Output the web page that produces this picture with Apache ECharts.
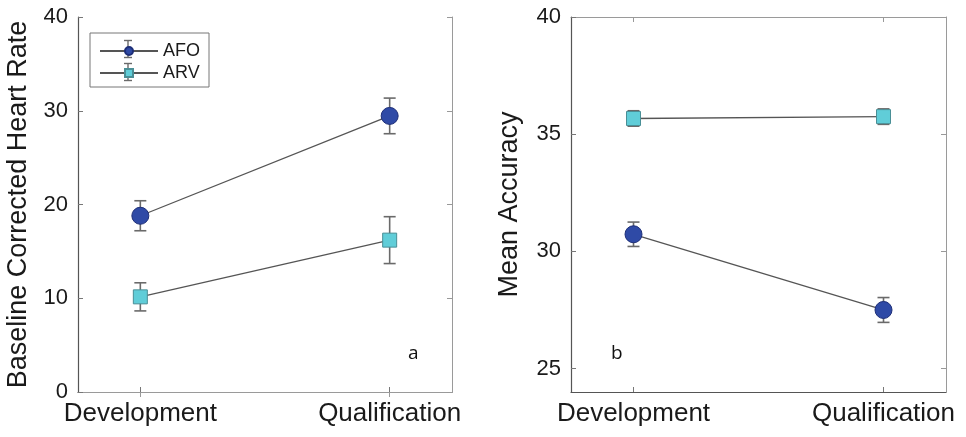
<!DOCTYPE html>
<html><head><meta charset="utf-8">
<script src="https://cdn.jsdelivr.net/npm/echarts@6/dist/echarts.min.js"></script>
<style>html,body{margin:0;padding:0;background:#fff}#c{width:966px;height:437px}</style>
</head><body><div id="c"></div>
<script>
const categories = ['Development', 'Qualification'];
const seriesNames = ['AFO', 'ARV'];
// Panel a: Baseline Corrected Heart Rate
const afoHR = [18.8, 29.45];
const afoHRErr = [1.6, 1.9];
const arvHR = [10.15, 16.2];
const arvHRErr = [1.5, 2.5];
// Panel b: Mean Accuracy
const afoAcc = [30.73, 27.5];
const afoAccErr = [0.52, 0.53];
const arvAcc = [35.67, 35.75];
const arvAccErr = [0.33, 0.33];
const hrTicks = [0, 10, 20, 30, 40];
const accTicks = [25, 30, 35, 40];

const FONT = 'Liberation Sans, Arial, Helvetica, sans-serif';
const AFO_COLOR = '#2f4aa6', AFO_BORDER = '#1e2f78';
const ARV_COLOR = '#60cdd8', ARV_BORDER = '#4a8f96';
const LINE_COLOR = '#555555';
const ERR_COLOR = '#6a6a6a';

function pts(vals) { return vals.map((v, i) => [i + 1, v]); }
function errPts(vals, errs) { return vals.map((v, i) => [i + 1, v - errs[i], v + errs[i]]); }

function errRender(params, api) {
  const x = api.value(0), lo = api.value(1), hi = api.value(2);
  const pTop = api.coord([x, hi]), pBot = api.coord([x, lo]);
  const cw = 6;
  const st = { stroke: ERR_COLOR, lineWidth: 1.6 };
  return { type: 'group', children: [
    { type: 'line', shape: { x1: pTop[0], y1: pTop[1], x2: pBot[0], y2: pBot[1] }, style: st },
    { type: 'line', shape: { x1: pTop[0] - cw, y1: pTop[1], x2: pTop[0] + cw, y2: pTop[1] }, style: st },
    { type: 'line', shape: { x1: pBot[0] - cw, y1: pBot[1], x2: pBot[0] + cw, y2: pBot[1] }, style: st }
  ]};
}

function xAxes(gridIndex) {
  const common = { type: 'value', gridIndex, min: 0.75, max: 2.25, splitLine: { show: false } };
  return [
    Object.assign({}, common, {
      position: 'bottom',
      axisLine: { lineStyle: { color: '#555', width: 1.2 } },
      axisTick: { inside: true, length: 5, customValues: [1, 2], lineStyle: { color: '#777' } },
      axisLabel: { customValues: [1, 2], formatter: v => categories[Math.round(v) - 1] || '',
        fontSize: 26, color: '#1a1a1a', fontFamily: FONT, margin: 9 }
    }),
    Object.assign({}, common, {
      position: 'top',
      axisLine: { lineStyle: { color: '#9a9a9a', width: 1 } },
      axisTick: { inside: true, length: 5, customValues: [1, 2], lineStyle: { color: '#999' } },
      axisLabel: { show: false }
    })
  ];
}

function yAxes(gridIndex, min, max, ticks, name, nameGap) {
  const common = { type: 'value', gridIndex, min, max, splitLine: { show: false } };
  return [
    Object.assign({}, common, {
      position: 'left',
      name, nameLocation: 'middle', nameGap,
      nameTextStyle: { fontSize: 27, color: '#1a1a1a', fontFamily: FONT },
      axisLine: { show: true, lineStyle: { color: '#555', width: 1.2 } },
      axisTick: { show: true, inside: true, length: 5, customValues: ticks, lineStyle: { color: '#777' } },
      axisLabel: { customValues: ticks, fontSize: 22, color: '#1a1a1a', fontFamily: FONT, margin: 10 }
    }),
    Object.assign({}, common, {
      position: 'right',
      axisLine: { show: true, lineStyle: { color: '#9a9a9a', width: 1 } },
      axisTick: { show: true, inside: true, length: 5, customValues: ticks, lineStyle: { color: '#999' } },
      axisLabel: { show: false }
    })
  ];
}

function lineSeries(name, vals, xi, yi, isAfo) {
  return {
    name, type: 'line', xAxisIndex: xi, yAxisIndex: yi, data: pts(vals),
    symbol: isAfo ? 'circle' : 'rect', symbolSize: isAfo ? 17 : 14,
    lineStyle: { color: LINE_COLOR, width: 1.3 },
    itemStyle: { color: isAfo ? AFO_COLOR : ARV_COLOR, borderColor: isAfo ? AFO_BORDER : ARV_BORDER, borderWidth: 1 },
    z: 3, animation: false
  };
}
function errSeries(vals, errs, xi, yi) {
  return { type: 'custom', xAxisIndex: xi, yAxisIndex: yi, data: errPts(vals, errs),
    renderItem: errRender, z: 2, silent: true, animation: false };
}

function legendCap(cx, cy, h) {
  const st = { stroke: ERR_COLOR, lineWidth: 1.4 };
  return [
    { type: 'line', z: 1, shape: { x1: cx, y1: cy - h, x2: cx, y2: cy + h }, style: st },
    { type: 'line', z: 1, shape: { x1: cx - 4, y1: cy - h, x2: cx + 4, y2: cy - h }, style: st },
    { type: 'line', z: 1, shape: { x1: cx - 4, y1: cy + h, x2: cx + 4, y2: cy + h }, style: st }
  ];
}

const chart = echarts.init(document.getElementById('c'), null, { renderer: 'canvas' });
chart.setOption({
  animation: false,
  backgroundColor: '#fff',
  textStyle: { fontFamily: FONT },
  grid: [
    { left: 78, right: 514, top: 17, bottom: 45 },
    { left: 571, right: 20, top: 17, bottom: 45 }
  ],
  xAxis: [...xAxes(0), ...xAxes(1)],
  yAxis: [...yAxes(0, 0, 40, hrTicks, 'Baseline Corrected Heart Rate', 46),
          ...yAxes(1, 24, 40, accTicks, 'Mean Accuracy', 48)],
  legend: {
    data: seriesNames, orient: 'vertical', left: 90, top: 33,
    padding: [9, 9, 5, 9], itemGap: 4, itemWidth: 58, itemHeight: 10,
    borderColor: '#777', borderWidth: 1,
    textStyle: { fontSize: 18, color: '#1a1a1a', fontFamily: FONT }
  },
  graphic: [
    ...legendCap(128, 49, 8.5),
    ...legendCap(128, 72, 8.5),
    { type: 'text', left: 408, top: 344, style: { text: 'a', fontSize: 19, fontFamily: 'Open Sans, sans-serif', fill: '#111' } },
    { type: 'text', left: 611, top: 344, style: { text: 'b', fontSize: 19, fontFamily: 'Open Sans, sans-serif', fill: '#111' } }
  ],
  series: [
    errSeries(afoHR, afoHRErr, 0, 0),
    errSeries(arvHR, arvHRErr, 0, 0),
    lineSeries('AFO', afoHR, 0, 0, true),
    lineSeries('ARV', arvHR, 0, 0, false),
    errSeries(afoAcc, afoAccErr, 2, 2),
    errSeries(arvAcc, arvAccErr, 2, 2),
    lineSeries('AFO', afoAcc, 2, 2, true),
    lineSeries('ARV', arvAcc, 2, 2, false)
  ]
});
</script></body></html>
